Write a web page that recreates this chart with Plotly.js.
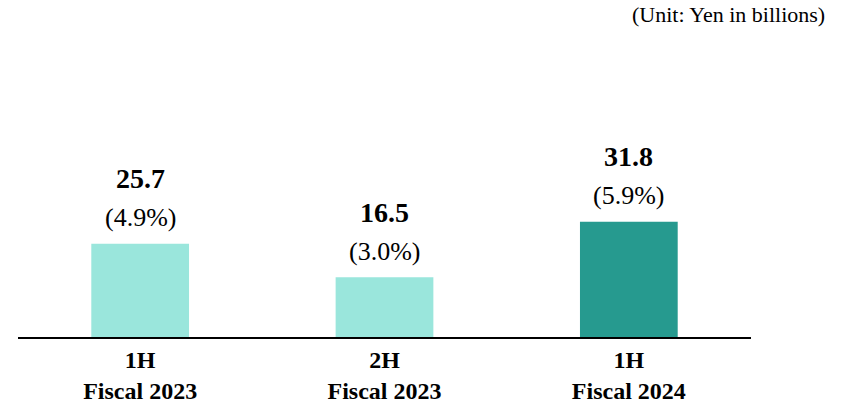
<!DOCTYPE html>
<html>
<head>
<meta charset="utf-8">
<script src="https://cdn.plot.ly/plotly-3.0.1.min.js"></script>
<style>
  html, body { margin: 0; padding: 0; background: #ffffff; }
  #chart { width: 842px; height: 403px; }
</style>
</head>
<body>
<div id="chart"></div>
<script>
const categories = ["1H<br>Fiscal 2023", "2H<br>Fiscal 2023", "1H<br>Fiscal 2024"];
const values = [25.7, 16.5, 31.8];
const ratios = ["(4.9%)", "(3.0%)", "(5.9%)"];
const barColors = ["#9AE6DC", "#9AE6DC", "#269A8F"];
const unitLabel = "(Unit: Yen in billions)";

const serif = "'Liberation Serif', 'Times New Roman', 'DejaVu Serif', serif";

const trace = {
  type: "bar",
  x: categories,
  y: values,
  marker: { color: barColors, line: { width: 0 } },
  hoverinfo: "none",
  cliponaxis: false
};

const annotations = [];
values.forEach((v, i) => {
  annotations.push({
    x: categories[i], y: v, xref: "x", yref: "y",
    text: "<b>" + v.toFixed(1) + "</b>",
    showarrow: false, yanchor: "middle", yshift: 65,
    font: { family: serif, size: 28, color: "#000000" }
  });
  annotations.push({
    x: categories[i], y: v, xref: "x", yref: "y",
    text: ratios[i],
    showarrow: false, yanchor: "middle", yshift: 26,
    font: { family: serif, size: 26, color: "#000000" }
  });
});
annotations.push({
  xref: "paper", yref: "paper", x: 1.104, y: 2.225,
  xanchor: "right", yanchor: "middle",
  text: unitLabel, showarrow: false,
  font: { family: serif, size: 22, color: "#000000" }
});

const layout = {
  width: 842, height: 403,
  margin: { l: 18, r: 91, t: 192, b: 66, pad: 0 },
  paper_bgcolor: "#ffffff", plot_bgcolor: "#ffffff",
  font: { family: serif, color: "#000000" },
  showlegend: false,
  bargap: 0.6,
  xaxis: {
    type: "category",
    showline: true, linecolor: "#000000", linewidth: 2,
    ticks: "", showgrid: false, zeroline: false,
    tickfont: { family: serif, size: 24, color: "#000000", weight: "bold" },
    ticklabelstandoff: 0
  },
  yaxis: {
    range: [0, 40], visible: false, showgrid: false, zeroline: false, fixedrange: true
  },
  annotations: annotations
};

Plotly.newPlot("chart", [trace], layout, { displayModeBar: false, staticPlot: true });
</script>
</body>
</html>
